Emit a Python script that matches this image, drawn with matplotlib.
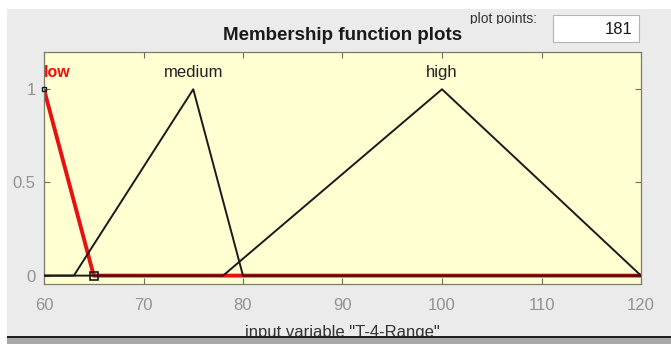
import matplotlib.pyplot as plt
from matplotlib.patches import Rectangle

plt.rcParams['font.family'] = ['Liberation Sans', 'DejaVu Sans']

# membership function vertices (x, mu)
low_x = [60, 65, 120]
low_y = [1, 0, 0]
medium_x = [60, 63, 75, 80, 120]
medium_y = [0, 0, 1, 0, 0]
high_x = [60, 78, 100, 120]
high_y = [0, 0, 1, 0]

mf_names = ['low', 'medium', 'high']
mf_label_x = [60, 75, 100]
xticks = [60, 70, 80, 90, 100, 110, 120]
yticks = [0, 0.5, 1]
ytick_labels = ['0', '0.5', '1']
n_points = 181

panel = '#ebebeb'
fig = plt.figure(figsize=(6.71, 3.44), dpi=100, facecolor=panel)
# white margin along the top and left edges
fig.patches.append(Rectangle((0, 1 - 9/344), 1, 9/344, transform=fig.transFigure,
                             facecolor='white', edgecolor='none', zorder=-1))
fig.patches.append(Rectangle((0, 0), 7/671, 1, transform=fig.transFigure,
                             facecolor='white', edgecolor='none', zorder=-1))

ax = fig.add_axes([44/671, 1 - 284/344, 597/671, 232/344])
ax.set_facecolor('#ffffd2')
ax.set_xlim(60, 120)
ax.set_ylim(-0.045, 1.2)

ax.plot(low_x, low_y, color='#e81010', lw=2.8, solid_capstyle='butt', zorder=2)
ax.plot(medium_x, medium_y, color='#1a1a1a', lw=1.4, zorder=3)
ax.plot(high_x, high_y, color='#1a1a1a', lw=1.4, zorder=3)
ax.plot([65], [0], marker='s', ms=6, mfc='none', mec='#1a1a1a', mew=1.2, zorder=4)
ax.plot([60], [1], marker='s', ms=3.5, mfc='none', mec='#1a1a1a', mew=1.0, zorder=4,
        clip_on=False)

for name, lx in zip(mf_names, mf_label_x):
    if name == 'low':
        ax.text(lx, 1.09, name, color='#e81010', fontsize=11.5, fontweight='bold',
                ha='left', va='center')
    else:
        ax.text(lx, 1.09, name, color='#222222', fontsize=12, ha='center', va='center')

ax.set_xticks(xticks)
ax.set_yticks(yticks)
ax.set_yticklabels(ytick_labels)
ax.tick_params(direction='in', top=True, right=True, length=4, width=0.8,
               color='#6e6e5a', labelcolor='#929292', labelsize=12, pad=10)
ax.tick_params(axis='y', pad=6)
for s in ax.spines.values():
    s.set_color('#7c7c6c')
    s.set_linewidth(0.9)

fig.text(343/671, 1 - 35/344, 'Membership function plots', ha='center', va='center',
         fontsize=13.5, fontweight='bold', color='#1a1a1a')
fig.text(503/671, 1 - 19/344, 'plot points:', ha='center', va='center',
         fontsize=10, color='#333333')
# lower part of the "plot points:" caption is hidden behind the panel
fig.patches.append(Rectangle((465/671, 1 - 33/344), 85/671, 9/344,
                             transform=fig.transFigure, facecolor=panel,
                             edgecolor='none', zorder=5))
fig.patches.append(Rectangle((553/671, 1 - 42/344), 86/671, 27/344,
                             transform=fig.transFigure, facecolor='white',
                             edgecolor='#b4b4b4', lw=0.8, zorder=6))
fig.text(633/671, 1 - 30/344, str(n_points), ha='right', va='center',
         fontsize=12, color='#1a1a1a', zorder=7)

fig.text(342/671, 1 - 333/344, 'input variable "T-4-Range"', ha='center', va='center',
         fontsize=12, color='#333333')
# bottom bar covers the lower part of the axis label
fig.patches.append(Rectangle((7/671, 0), 1, 7/344, transform=fig.transFigure,
                             facecolor='#a8a8a8', edgecolor='none', zorder=10))
fig.patches.append(Rectangle((7/671, 6/344), 1, 2/344, transform=fig.transFigure,
                             facecolor='#202020', edgecolor='none', zorder=11))

fig.savefig('out.png', dpi=100, facecolor=fig.get_facecolor())
